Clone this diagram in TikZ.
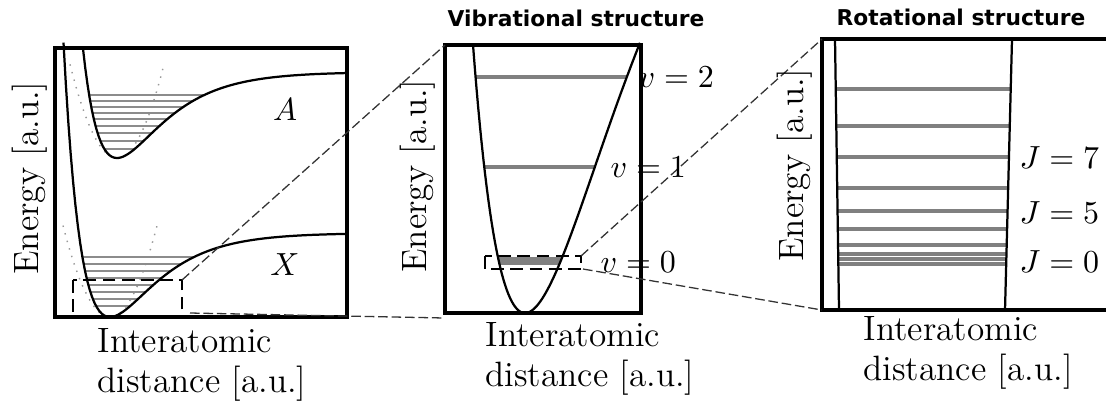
\documentclass[tikz,border=0pt]{standalone}
\usepackage{fontspec}
\newfontfamily\titlefont{DejaVu Sans}

\begin{document}
\begin{tikzpicture}[
    x=0.3125pt, y=-0.3125pt,
    panel/.style={line width=1pt},
    curve/.style={line width=0.7pt},
    harm/.style={black!40, dotted, line width=0.45pt},
    lvl/.style={black!45, line width=0.55pt},
    vlvl/.style={black!50, line width=1.1pt},
    rlvl/.style={black!50, line width=1pt},
    zoombox/.style={dash pattern=on 4pt off 2pt, line width=0.5pt},
    zoomline/.style={black!80, dash pattern=on 3pt off 1.2pt, line width=0.4pt},
    title/.style={font=\titlefont\bfseries\fontsize{6.8}{8}\selectfont},
    axis/.style={font=\fontsize{11}{12.5}\selectfont, inner sep=0pt},
    xaxis/.style={axis, align=left, anchor=north west},
    lab/.style={font=\fontsize{10}{12}\selectfont, inner sep=0pt}
  ]
  \useasboundingbox (0,0) rectangle (1106,403);

  % potential curves A and X
  \draw[harm] plot[domain=70:164, samples=40] (\x,{158-0.0424*(\x-117)^2});
  \draw[harm] plot[domain=63:157, samples=40] (\x,{317-0.0414*(\x-110)^2});
  \foreach \ly in {95,101,107,113,119,126,133,141,149}
    \draw[lvl] ({117-ln(1+sqrt((158-\ly)/86))/0.0222},\ly) -- ({117-ln(1-sqrt((158-\ly)/86))/0.0222},\ly);
  \foreach \ly in {257,264,271,278,285,292,299,306}
    \draw[lvl] ({110-ln(1+sqrt((317-\ly)/84))/0.0222},\ly) -- ({110-ln(1-sqrt((317-\ly)/84))/0.0222},\ly);
  \draw[curve] plot[domain=83:347, samples=120] (\x,{158-86*(1-exp(-0.0222*(\x-117)))^2});
  \draw[curve] plot[domain=63.5:347, samples=120] (\x,{317-84*(1-exp(-0.0222*(\x-110)))^2});

  % vibrational levels
  \foreach \ly in {77,167,259,263}
    \draw[vlvl] ({525-ln(1+sqrt((313-\ly)/580))/0.00998},\ly) -- ({525-ln(1-sqrt((313-\ly)/580))/0.00998},\ly);
  \draw[curve] plot[domain=473:640, samples=100] (\x,{313-580*(1-exp(-0.00998*(\x-525)))^2});

  % rotational levels
  \foreach \ly in {89,126,157,188,211,229,245,254,259,264}
    \draw[rlvl] ({835+4*(\ly-39)/271},\ly) -- ({1012-7*(\ly-39)/271},\ly);
  \draw[curve] (835,39) -- (839,310);
  \draw[curve] (1012,39) -- (1005,310);

  % panels
  \draw[panel] (55,48) coordinate (potnw) rectangle (347,317) coordinate (potse);
  \draw[panel] (445,45) coordinate (vibnw) rectangle (641,313);
  \draw[panel] (1106,39) -- (822,39) coordinate (rotnw) -- (822,310) coordinate (rotsw) -- (1106,310);
  \coordinate (vibsw) at (445,318);

  % zoom boxes and lines
  \draw[zoombox] (73,280) rectangle (182,317);
  \draw[zoombox] (485,256) rectangle (581,269);
  \coordinate (box1ne) at (182,280);
  \coordinate (box1se) at (190,313);
  \coordinate (box2ne) at (581,256);
  \coordinate (box2se) at (583,269);
  \draw[zoomline] (box1ne) -- (vibnw);
  \draw[zoomline] (box1se) -- (vibsw);
  \draw[zoomline] (box2ne) -- (rotnw);
  \draw[zoomline] (box2se) -- (rotsw);

  % texts
  \node[title] (vibtitle) at (576,18) {Vibrational structure};
  \node[title] (rottitle) at (961,17) {Rotational structure};
  \node[axis, rotate=90] (eny1) at (30,178) {Energy [a.u.]};
  \node[axis, rotate=90] (eny2) at (418,176) {Energy [a.u.]};
  \node[axis, rotate=90] (eny3) at (795,165) {Energy [a.u.]};
  \node[xaxis] (dist1) at (97,328) {Interatomic\\distance [a.u.]};
  \node[xaxis] (dist2) at (485,322) {Interatomic\\distance [a.u.]};
  \node[xaxis] (dist3) at (863,316) {Interatomic\\distance [a.u.]};
  \node[lab] (stateA) at (285,110) {$A$};
  \node[lab] (stateX) at (285,265) {$X$};
  \node[lab, anchor=west] (vtwo) at (638,77) {$v=2$};
  \node[lab, anchor=west] (vone) at (610,167) {$v=1$};
  \node[lab, anchor=west] (vzero) at (600,262) {$v=0$};
  \node[lab, anchor=west] (jseven) at (1019,158) {$J=7$};
  \node[lab, anchor=west] (jfive) at (1019,213) {$J=5$};
  \node[lab, anchor=west] (jzero) at (1019,262) {$J=0$};
\end{tikzpicture}
\end{document}
